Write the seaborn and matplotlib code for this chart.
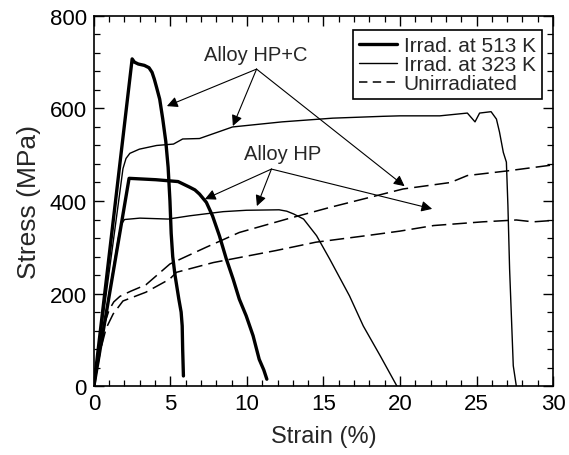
import matplotlib
matplotlib.use("Agg")
import matplotlib.pyplot as plt
import seaborn as sns
import pandas as pd
from matplotlib.lines import Line2D
from matplotlib.ticker import MultipleLocator

# ---- data (strain %, stress MPa) ----
hpc_513_x = [0, 2.5, 2.65, 2.9, 3.3, 3.6, 3.8, 3.95, 4.1, 4.3, 4.5, 4.7, 4.85, 4.97, 5.05,
             5.15, 5.3, 5.55, 5.7, 5.77, 5.8, 5.85]
hpc_513_y = [0, 707, 700, 696, 693, 688, 678, 663, 645, 620, 577, 528, 473, 400, 330,
             280, 240, 188, 160, 130, 80, 22]

hp_513_x = [0, 2.3, 4.05, 5.5, 6.25, 6.6, 6.9, 7.35, 7.75, 8.2, 8.65, 9.1, 9.5, 9.95, 10.4,
            10.8, 11.1, 11.3]
hp_513_y = [0, 449, 446, 442, 430, 424, 415, 397, 368, 325, 275, 231, 188, 152, 109,
            58, 35, 15]

hpc_323_x = [0, 1.7, 1.9, 2.1, 2.35, 2.97, 4.1, 5.2, 5.8, 6.9, 9.06, 12.3, 15.6, 18.9, 20.0,
             22.6, 24.4, 24.9, 25.2, 25.95, 26.3, 26.5, 26.75, 26.95, 27.05, 27.16, 27.4, 27.6]
hpc_323_y = [0, 420, 470, 492, 503, 512, 520, 523, 534, 535, 560, 571, 579, 583, 584,
             584, 590, 571, 590, 593, 577, 549, 505, 484, 390, 253, 44, 0]

hp_323_x = [0, 1.6, 1.8, 2.0, 3.0, 4.86, 6.25, 8.45, 9.97, 12.1, 12.6, 13.05, 13.7, 14.55,
            15.4, 16.7, 17.6, 18.7, 19.8]
hp_323_y = [0, 320, 350, 360, 363, 361, 368, 377, 380, 381, 378, 372, 361, 325,
            275, 195, 130, 66, 0]

hpc_un_x = [0, 0.4, 0.7, 1.0, 1.3, 1.7, 2.4, 3.4, 4.97, 7.33, 9.5, 12.6, 15.4, 20.2, 23.3,
            24.4, 27.0, 30.0]
hpc_un_y = [0, 85, 135, 165, 182, 194, 205, 219, 264, 300, 332, 361, 386, 426, 440,
            455, 465, 478]

hp_un_x = [0, 0.45, 0.8, 1.26, 1.9, 3.4, 4.94, 5.4, 7.8, 11.9, 14.5, 18.0, 20.0, 22.2, 25.4,
           27.6, 28.7, 30.0]
hp_un_y = [0, 80, 125, 156, 184, 203, 231, 246, 267, 293, 311, 326, 335, 347, 355,
           359, 355, 358]

legend_labels = ["Irrad. at 513 K", "Irrad. at 323 K", "Unirradiated"]
x_ticks = [0, 5, 10, 15, 20, 25, 30]
y_ticks = [0, 200, 400, 600, 800]

sns.set_style("ticks")
plt.rcParams["font.family"] = ["Liberation Sans", "DejaVu Sans"]

fig = plt.figure(figsize=(5.69, 4.56), dpi=100)
ax = fig.add_axes([0.165, 0.151, 0.807, 0.812])

thick = dict(color="black", lw=2.4)
thin = dict(color="black", lw=1.0)
dash = dict(color="black", lw=1.1, dashes=(9.5, 4))

curves = [
    (hpc_513_x, hpc_513_y, thick),
    (hp_513_x, hp_513_y, thick),
    (hpc_323_x, hpc_323_y, thin),
    (hp_323_x, hp_323_y, thin),
    (hpc_un_x, hpc_un_y, dash),
    (hp_un_x, hp_un_y, dash),
]
for xs, ys, style in curves:
    df = pd.DataFrame({"x": xs, "y": ys})
    kw = dict(style)
    dashes = kw.pop("dashes", None)
    sns.lineplot(data=df, x="x", y="y", sort=False, estimator=None, ax=ax, **kw)
    ax.lines[-1].set_solid_joinstyle("round")
    if dashes is not None:
        ax.lines[-1].set_dashes(dashes)

ax.set_xlim(0, 30)
ax.set_ylim(0, 800)
ax.set_xticks(x_ticks)
ax.set_yticks(y_ticks)
ax.xaxis.set_minor_locator(MultipleLocator(1))
ax.yaxis.set_minor_locator(MultipleLocator(40))
ax.tick_params(which="both", direction="in", top=True, right=True, labelsize=16, colors="black")
ax.tick_params(which="major", length=7, width=1.0, pad=5)
ax.tick_params(which="minor", length=4, width=0.9)
for s in ax.spines.values():
    s.set_linewidth(1.2)
    s.set_color("black")
ax.set_xlabel("Strain (%)", fontsize=17, labelpad=8)
ax.set_ylabel("Stress (MPa)", fontsize=19, labelpad=6)

handles = [Line2D([], [], **thick), Line2D([], [], **thin),
           Line2D([], [], color="black", lw=1.1, dashes=(5.5, 3.5))]
leg = ax.legend(handles, legend_labels, loc="upper right", fontsize=15,
                frameon=True, fancybox=False, edgecolor="black", framealpha=1,
                labelspacing=0.0, handlelength=1.85, handletextpad=0.3,
                borderpad=0.3, borderaxespad=0, bbox_to_anchor=(0.976, 0.963))
leg.get_frame().set_linewidth(1.2)

arrow = dict(arrowstyle="-|>", color="black", lw=0.8, mutation_scale=16, shrinkA=0, shrinkB=0)
ax.text(10.6, 716, "Alloy HP+C", fontsize=14.5, ha="center", va="center")
for tgt in [(4.77, 605), (9.08, 562), (20.3, 432)]:
    ax.annotate("", xy=tgt, xytext=(10.63, 685), arrowprops=arrow)
ax.text(12.3, 502, "Alloy HP", fontsize=14.5, ha="center", va="center")
for tgt in [(7.25, 404), (10.65, 389), (22.1, 383)]:
    ax.annotate("", xy=tgt, xytext=(11.6, 469), arrowprops=arrow)

fig.savefig("out.png", dpi=100)
